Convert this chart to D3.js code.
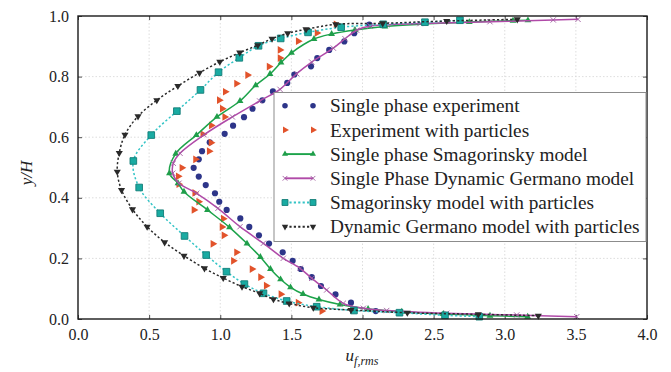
<!DOCTYPE html>
<html>
<head>
<meta charset="utf-8">
<script src="https://cdn.jsdelivr.net/npm/d3@7"></script>
<style>
  html, body { margin: 0; padding: 0; background: #fff; }
  svg { display: block; }
  svg text { font-family: "Liberation Serif", "DejaVu Serif", "Noto Serif", serif; fill: #222; }
</style>
</head>
<body>
<svg id="chart" width="671" height="372"></svg>
<script>
// Axis ticks
const xTicks = [0, 0.5, 1, 1.5, 2, 2.5, 3, 3.5, 4];
const yTicks = [0, 0.2, 0.4, 0.6, 0.8, 1.0];

// Series: [u_f,rms , y/H]
const singlePhaseExp = [
  [2.093,0.026],[1.919,0.054],[1.810,0.081],[1.708,0.109],[1.643,0.138],[1.566,0.165],
  [1.509,0.192],[1.439,0.220],[1.343,0.249],[1.272,0.276],[1.204,0.304],[1.141,0.332],
  [1.045,0.360],[0.993,0.387],[0.963,0.415],[0.898,0.442],[0.849,0.470],[0.813,0.499],
  [0.849,0.527],[0.872,0.554],[0.926,0.583],[1.031,0.611],[1.090,0.638],[1.167,0.666],
  [1.227,0.694],[1.296,0.722],[1.370,0.751],[1.471,0.779],[1.521,0.807],[1.638,0.834],
  [1.682,0.861],[1.766,0.888],[1.872,0.916],[1.942,0.943],[2.048,0.972]
];
const particleExp = [
  [1.714,0.026],[1.547,0.054],[1.426,0.082],[1.323,0.110],[1.283,0.138],[1.223,0.165],
  [1.092,0.192],[1.114,0.220],[0.948,0.248],[1.026,0.276],[1.012,0.304],[1.021,0.331],
  [0.815,0.360],[0.848,0.387],[0.820,0.416],[0.708,0.445],[0.704,0.471],[0.730,0.499],
  [0.826,0.527],[0.922,0.554],[0.935,0.582],[0.877,0.610],[0.937,0.639],[1.031,0.667],
  [1.014,0.694],[0.993,0.722],[1.035,0.750],[1.114,0.777],[1.192,0.805],[1.343,0.833],
  [1.420,0.861],[1.420,0.888],[1.548,0.917],[1.680,0.944],[1.814,0.972]
];
const singleSmag = [
  [3.161,0.0076],[2.896,0.0109],[2.568,0.0165],[2.276,0.0241],[2.039,0.033],[1.842,0.0479],
  [1.694,0.0644],[1.582,0.0825],[1.494,0.1046],[1.424,0.131],[1.353,0.165],[1.282,0.2046],
  [1.188,0.249],[1.065,0.3026],[0.910,0.360],[0.745,0.420],[0.703,0.448],[0.643,0.481],
  [0.687,0.5455],[0.832,0.607],[0.977,0.667],[1.139,0.7195],[1.249,0.771],[1.350,0.8086],
  [1.427,0.8465],[1.501,0.8785],[1.659,0.924],[1.783,0.9406],[1.947,0.9538],[2.158,0.9653],
  [2.751,0.980],[3.058,0.9845],[3.163,0.9858]
];
const singleGermano = [
  [3.506,0.0076],[3.084,0.0132],[2.592,0.0188],[2.170,0.028],[2.006,0.0353],[1.865,0.0518],
  [1.748,0.0957],[1.643,0.1343],[1.561,0.1673],[1.443,0.2003],[1.303,0.2498],[1.139,0.3046],
  [0.984,0.3653],[0.834,0.4149],[0.710,0.448],[0.666,0.481],[0.670,0.514],[0.717,0.547],
  [0.886,0.608],[1.085,0.667],[1.277,0.7195],[1.420,0.758],[1.537,0.8096],[1.643,0.848],
  [1.795,0.894],[1.877,0.925],[1.959,0.953],[2.053,0.967],[2.170,0.971],[2.404,0.975],
  [2.896,0.981],[3.341,0.987],[3.515,0.989]
];
const particleSmag = [
  [2.821,0.0076],[2.580,0.0122],[2.260,0.0208],[1.940,0.028],[1.678,0.0406],[1.467,0.0594],
  [1.304,0.0848],[1.170,0.1152],[1.044,0.1561],[0.901,0.211],[0.749,0.274],[0.578,0.349],
  [0.430,0.434],[0.389,0.5215],[0.515,0.607],[0.695,0.686],[0.861,0.756],[0.988,0.8145],
  [1.134,0.862],[1.269,0.9017],[1.425,0.926],[1.617,0.946],[1.850,0.963],[2.146,0.9726],
  [2.439,0.9795],[2.685,0.986]
];
const particleGermano = [
  [3.236,0.0109],[2.814,0.0155],[2.315,0.0208],[1.919,0.0297],[1.654,0.0373],[1.485,0.0512],
  [1.374,0.0653],[1.277,0.0848],[1.153,0.1066],[1.021,0.1353],[0.889,0.1673],[0.745,0.2086],
  [0.609,0.2531],[0.486,0.3046],[0.383,0.362],[0.306,0.4257],[0.276,0.486],[0.290,0.548],
  [0.330,0.6083],[0.422,0.669],[0.554,0.722],[0.702,0.769],[0.854,0.8125],[0.997,0.849],
  [1.137,0.879],[1.264,0.9036],[1.364,0.925],[1.474,0.943],[1.603,0.956],[1.812,0.9726],
  [2.142,0.9759],[2.592,0.9835],[3.088,0.989]
];

const legendLabels = [
  "Single phase experiment",
  "Experiment with particles",
  "Single phase Smagorinsky model",
  "Single Phase Dynamic Germano model",
  "Smagorinsky model with particles",
  "Dynamic Germano model with particles"
];

const svg = d3.select("#chart");
const plot = { left: 78, right: 647, top: 16, bottom: 319 };

const x = d3.scaleLinear().domain([0, 4]).range([plot.left, plot.right]);
const y = d3.scaleLinear().domain([0, 1]).range([plot.bottom, plot.top]);

// grid
const grid = svg.append("g");
grid.selectAll("line.gx").data(xTicks.slice(1, -1)).join("line")
  .attr("x1", d => x(d)).attr("x2", d => x(d))
  .attr("y1", plot.top).attr("y2", plot.bottom)
  .attr("stroke", "#d4d4d4").attr("stroke-width", 0.8).attr("stroke-dasharray", "1.5,2");
grid.selectAll("line.gy").data(yTicks.slice(1, -1)).join("line")
  .attr("y1", d => y(d)).attr("y2", d => y(d))
  .attr("x1", plot.left).attr("x2", plot.right)
  .attr("stroke", "#d4d4d4").attr("stroke-width", 0.8).attr("stroke-dasharray", "1.5,2");

// axes
const xAxis = d3.axisBottom(x).tickValues(xTicks).tickFormat(d3.format(".1f")).tickSizeInner(-4).tickSizeOuter(0).tickPadding(10);
const yAxis = d3.axisLeft(y).tickValues(yTicks).tickFormat(d3.format(".1f")).tickSizeInner(-4).tickSizeOuter(0).tickPadding(9);
const gx = svg.append("g").attr("transform", `translate(0,${plot.bottom})`).call(xAxis);
const gy = svg.append("g").attr("transform", `translate(${plot.left},0)`).call(yAxis);
[gx, gy].forEach(g => {
  g.attr("font-family", null);
  g.select(".domain").remove();
  g.selectAll(".tick line").attr("stroke", "#222").attr("stroke-width", 0.8);
  g.selectAll(".tick text").attr("font-size", 16).attr("fill", "#444");
});
// top / right ticks
svg.append("g").attr("transform", `translate(0,${plot.top})`)
  .call(d3.axisTop(x).tickValues(xTicks).tickSizeInner(-4).tickSizeOuter(0).tickFormat(""))
  .call(g => { g.select(".domain").remove(); g.selectAll(".tick line").attr("stroke", "#222").attr("stroke-width", 0.8); });
svg.append("g").attr("transform", `translate(${plot.right},0)`)
  .call(d3.axisRight(y).tickValues(yTicks).tickSizeInner(-4).tickSizeOuter(0).tickFormat(""))
  .call(g => { g.select(".domain").remove(); g.selectAll(".tick line").attr("stroke", "#222").attr("stroke-width", 0.8); });

// marker styles
const sym = {
  circle:  { type: d3.symbolCircle,   size: 30, rot: 0,   fill: "#2d3589", stroke: "none" },
  right:   { type: d3.symbolTriangle, size: 26, rot: 90,  fill: "#e2532b", stroke: "none" },
  up:      { type: d3.symbolTriangle, size: 20, rot: 0,   fill: "#1f9e4a", stroke: "none" },
  times:   { type: d3.symbolTimes || d3.symbolCross, size: 20, rot: d3.symbolTimes ? 0 : 45, fill: "none", stroke: "#a05ba0" },
  square:  { type: d3.symbolSquare,   size: 44, rot: 0,   fill: "#19aba2", stroke: "#137d77" },
  down:    { type: d3.symbolTriangle, size: 22, rot: 180, fill: "#2a2a2a", stroke: "none" }
};

function drawMarkers(g, data, s) {
  g.selectAll(null).data(data).join("path")
    .attr("d", d3.symbol().type(s.type).size(s.size))
    .attr("transform", d => `translate(${x(d[0])},${y(d[1])}) rotate(${s.rot})`)
    .attr("fill", s.fill)
    .attr("stroke", s.stroke)
    .attr("stroke-width", s.stroke === "none" ? 0 : 0.9);
}

const line = d3.line().x(d => x(d[0])).y(d => y(d[1])).curve(d3.curveCatmullRom.alpha(0.5));

const series = [
  { data: singlePhaseExp,  marker: "circle", line: null },
  { data: particleExp,     marker: "right",  line: null },
  { data: singleSmag,      marker: "up",     line: { color: "#1ca34a", width: 1.5, dash: null } },
  { data: singleGermano,   marker: "times",  line: { color: "#b04aa8", width: 1.5, dash: null } },
  { data: particleSmag,    marker: "square", line: { color: "#33c4c6", width: 1.5, dash: "2.2,2.2" } },
  { data: particleGermano, marker: "down",   line: { color: "#2a2a2a", width: 1.5, dash: "2.2,2.2" } }
];

const plotG = svg.append("g");
series.forEach(s => {
  const g = plotG.append("g");
  if (s.line) {
    g.append("path").datum(s.data).attr("d", line)
      .attr("fill", "none").attr("stroke", s.line.color)
      .attr("stroke-width", s.line.width)
      .attr("stroke-dasharray", s.line.dash);
  }
  drawMarkers(g, s.data, sym[s.marker]);
});

// frame
svg.append("rect")
  .attr("x", plot.left).attr("y", plot.top)
  .attr("width", plot.right - plot.left).attr("height", plot.bottom - plot.top)
  .attr("fill", "none").attr("stroke", "#1a1a1a").attr("stroke-width", 1.4);

// legend
const leg = svg.append("g");
leg.append("rect").attr("x", 274).attr("y", 92.5).attr("width", 372).attr("height", 149)
  .attr("fill", "#fff").attr("stroke", "#8c8c8c").attr("stroke-width", 1);
series.forEach((s, i) => {
  const cy = 105.7 + i * 24.2;
  const g = leg.append("g");
  if (s.line) {
    g.append("line").attr("x1", 285).attr("x2", 313).attr("y1", cy).attr("y2", cy)
      .attr("stroke", s.line.color).attr("stroke-width", s.line.width + 0.4)
      .attr("stroke-dasharray", s.line.dash);
  }
  const m = sym[s.marker];
  g.selectAll(null).data([285, 313]).join("path")
    .attr("d", d3.symbol().type(m.type).size(m.size * 0.8))
    .attr("transform", d => `translate(${d},${cy}) rotate(${m.rot})`)
    .attr("fill", m.fill).attr("stroke", m.stroke).attr("stroke-width", m.stroke === "none" ? 0 : 0.9);
  g.append("text").attr("x", 330).attr("y", cy).attr("dy", "0.35em")
    .attr("font-size", 19.3).attr("fill", "#222").text(legendLabels[i]);
});

// axis titles
const xl = svg.append("text").attr("x", 362).attr("y", 361).attr("text-anchor", "middle")
  .attr("font-size", 17).attr("font-style", "italic").attr("fill", "#333");
xl.append("tspan").text("u");
xl.append("tspan").attr("font-size", 12).attr("dy", 4).text("f,rms");

svg.append("text").attr("transform", "translate(32,173) rotate(-90)")
  .attr("text-anchor", "middle").attr("font-size", 17).attr("font-style", "italic").attr("fill", "#333")
  .text("y/H");
</script>
</body>
</html>
